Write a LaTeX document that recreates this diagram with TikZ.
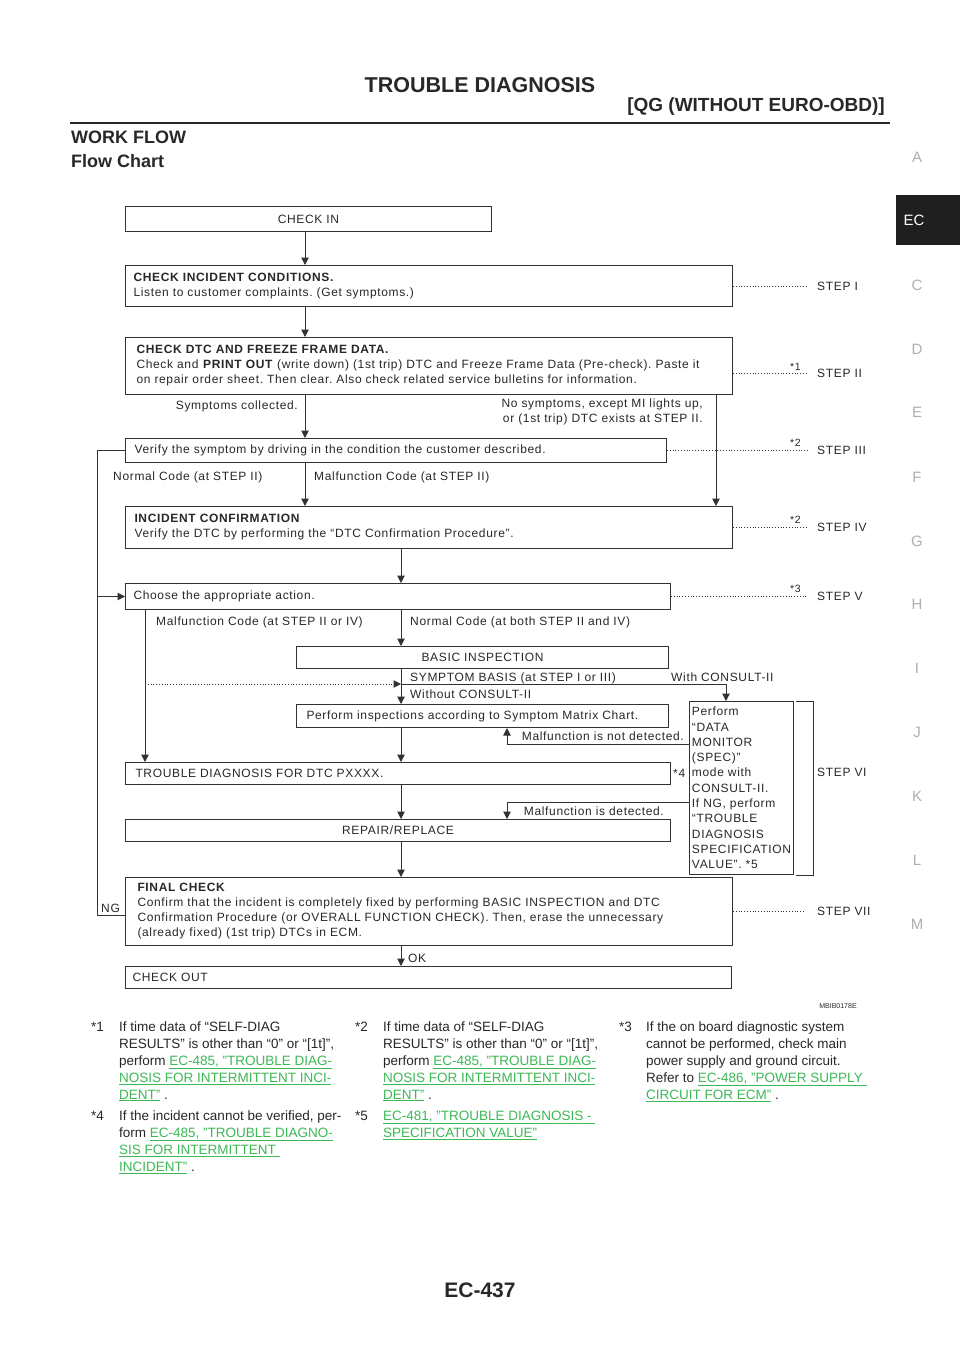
\documentclass[tikz,border=0pt]{standalone}
\usepackage{fontspec}
\setmainfont{Liberation Sans}
\newfontfamily\fcfont[LetterSpace=5.5]{Liberation Sans}
\usetikzlibrary{arrows.meta}
\definecolor{fcc}{RGB}{40,40,40}
\definecolor{lnc}{RGB}{50,50,50}
\definecolor{lk}{RGB}{60,185,85}
\definecolor{tabc}{RGB}{175,175,175}
\newcommand\fl[1]{\mbox{#1}}
\newcommand\lk[1]{\textcolor{lk}{\underline{#1}}}
\frenchspacing
\begin{document}
\begin{tikzpicture}[x=1pt,y=-1pt,
  fc/.style={font=\fcfont\fontsize{12}{15}\selectfont, text=fcc},
  box/.style={fc, draw=lnc, line width=1pt, rectangle, inner ysep=0pt, anchor=north west},
  lbl/.style={fc, inner sep=0pt, anchor=base west},
  star/.style={font=\fcfont\fontsize{10.5}{12}\selectfont, text=fcc, inner sep=0pt, anchor=base west},
  arr/.style={draw=lnc, line width=1pt, -{Triangle[width=7.5pt,length=7.5pt]}},
  ln/.style={draw=lnc, line width=1pt},
  dot/.style={draw=lnc, line width=1pt, dash pattern=on 1pt off 1.8pt},
  fn/.style={anchor=north west, inner sep=0pt, align=left, font=\fontsize{13.5}{17}\selectfont, text=fcc},
  tab/.style={font=\fontsize{15}{18}\selectfont, text=tabc, inner sep=0pt}
]
\useasboundingbox (0,0) rectangle (960,1358);
\fill[white] (0,0) rectangle (960,1358);

% header
\node[font=\bfseries\fontsize{21.5}{24}\selectfont, text=fcc, inner sep=0pt] (title) at (480,85) {TROUBLE DIAGNOSIS};
\node[font=\bfseries\fontsize{19}{22}\selectfont, text=fcc, inner sep=0pt, anchor=east] (subtitle) at (885,107) {[QG (WITHOUT EURO-OBD)]};
\draw[line width=2.7pt, fcc] (70,123) -- (890,123);
\node[font=\bfseries\fontsize{18}{20}\selectfont, text=fcc, inner sep=0pt, anchor=west] (wf) at (71,137) {WORK FLOW};
\node[font=\bfseries\fontsize{18}{20}\selectfont, text=fcc, inner sep=0pt, anchor=west] (fch) at (71,161) {Flow Chart};

% side tabs
\fill[black!88] (896,195) rectangle (960,245);
\node[font=\fontsize{15}{18}\selectfont, text=white, inner sep=0pt] (tabec) at (914,220) {EC};
\foreach \t/\yy [count=\i] in {A/157,C/285,D/349,E/412,F/477,G/541,H/604,I/668,J/732,K/796,L/860,M/924}
  \node[tab] (tab\i) at (917,\yy) {\t};

% x / y helper coordinates
\coordinate (X97) at (97,0);
\coordinate (X145) at (145,0);
\coordinate (X305) at (305,0);
\coordinate (X401) at (401,0);
\coordinate (X507) at (507,0);
\coordinate (X716) at (716,0);
\coordinate (X726) at (726,0);
\coordinate (X805) at (805,0);
\coordinate (X808) at (808,0);
\coordinate (Y373) at (0,373);
\coordinate (Y684) at (0,684);
\coordinate (Y744) at (0,744);
\coordinate (Y802) at (0,802);
\coordinate (Y915) at (0,915);

% boxes
\node[box, text width=366pt, inner xsep=0pt, align=center, minimum height=25pt] (checkin) at (125,206) {CHECK IN};
\node[box, text width=591pt, inner xsep=8pt, align=left, minimum height=41pt] (cic) at (125,265)
  {\fl{\bfseries CHECK INCIDENT CONDITIONS.}\\\fl{Listen to customer complaints. (Get symptoms.)}};
\node[box, text width=585pt, inner xsep=11pt, align=left, minimum height=57pt] (dtc) at (125,337)
  {\fl{\bfseries CHECK DTC AND FREEZE FRAME DATA.}\\\fl{Check and \textbf{PRINT OUT} (write down) (1st trip) DTC and Freeze Frame Data (Pre-check). Paste it}\\\fl{on repair order sheet. Then clear. Also check related service bulletins for information.}};
\node[box, text width=523pt, inner xsep=9pt, align=left, minimum height=24pt] (verify) at (125,438)
  {\fl{Verify the symptom by driving in the condition the customer described.}};
\node[box, text width=589pt, inner xsep=9pt, align=left, minimum height=42pt] (conf) at (125,506)
  {\fl{\bfseries INCIDENT CONFIRMATION}\\\fl{Verify the DTC by performing the “DTC Confirmation Procedure”.}};
\node[box, text width=529pt, inner xsep=8pt, align=left, minimum height=26pt] (choose) at (125,583)
  {\fl{Choose the appropriate action.}};
\node[box, text width=372pt, inner xsep=0pt, align=center, minimum height=22pt] (basic) at (296,646)
  {\fl{BASIC INSPECTION}};
\node[box, text width=352pt, inner xsep=10pt, align=left, minimum height=23pt] (perf) at (296,704)
  {\fl{Perform inspections according to Symptom Matrix Chart.}};
\node[box, font=\fcfont\fontsize{12}{15.3}\selectfont, minimum width=104pt, inner xsep=1pt, align=left, minimum height=173pt] (dm) at (689,701)
  {Perform\\“DATA\\MONITOR\\(SPEC)”\\mode with\\CONSULT-II.\\If NG, perform\\“TROUBLE\\DIAGNOSIS\\SPECIFICATION\\VALUE”. *5};
\node[box, text width=525pt, inner xsep=10pt, align=left, minimum height=22pt] (tdiag) at (125,762)
  {\fl{TROUBLE DIAGNOSIS FOR DTC PXXXX.}};
\node[box, text width=545pt, inner xsep=0pt, align=center, minimum height=22pt] (repair) at (125,819)
  {\fl{REPAIR/REPLACE}};
\node[box, text width=583pt, inner xsep=12pt, align=left, minimum height=68pt] (final) at (125,877)
  {\fl{\bfseries FINAL CHECK}\\\fl{Confirm that the incident is completely fixed by performing BASIC INSPECTION and DTC}\\\fl{Confirmation Procedure (or OVERALL FUNCTION CHECK). Then, erase the unnecessary}\\\fl{(already fixed) (1st trip) DTCs in ECM.}};
\node[box, text width=592pt, inner xsep=7pt, align=left, minimum height=22pt] (checkout) at (125,966)
  {\fl{CHECK OUT}};

% connectors
\draw[arr] (checkin.south -| X305) -- (cic.north -| X305);
\draw[arr] (cic.south -| X305) -- (dtc.north -| X305);
\draw[arr] (dtc.south -| X305) -- (verify.north -| X305);
\draw[arr] (dtc.south -| X716) -- (conf.north -| X716);
\draw[arr] (verify.south -| X305) -- (conf.north -| X305);
\draw[arr] (verify.west) -- (verify.west -| X97) -- (choose.west -| X97) -- (choose.west);
\draw[ln] (Y915 -| final.west) -- (Y915 -| X97) -- (choose.west -| X97);
\draw[arr] (conf.south -| X401) -- (choose.north -| X401);
\draw[arr] (choose.south -| X145) -- (tdiag.north -| X145);
\draw[arr] (choose.south -| X401) -- (basic.north -| X401);
\draw[arr] (basic.south -| X401) -- (perf.north -| X401);
\draw[arr] (Y684 -| X401) -- (Y684 -| X726) -- (dm.north -| X726);
\draw[dot, -{Triangle[width=7.5pt,length=7.5pt]}] (Y684 -| X145) -- (Y684 -| X401);
\draw[arr] (Y744 -| dm.west) -- (Y744 -| X507) -- (perf.south -| X507);
\draw[arr] (perf.south -| X401) -- (tdiag.north -| X401);
\draw[arr] (tdiag.south -| X401) -- (repair.north -| X401);
\draw[arr] (Y802 -| dm.west) -- (Y802 -| X507) -- (repair.north -| X507);
\draw[arr] (repair.south -| X401) -- (final.north -| X401);
\draw[arr] (final.south -| X401) -- (checkout.north -| X401);
\draw[ln] ([xshift=2pt]dm.north east) -- ([xshift=19pt]dm.north east) -- ([xshift=19pt]dm.south east) -- ([xshift=2pt]dm.south east);

% step dotted lines
\draw[dot] (cic.east) -- (cic.east -| X808);
\draw[dot] (Y373 -| dtc.east) -- (Y373 -| X808);
\draw[dot] (verify.east) -- (verify.east -| X808);
\draw[dot] (conf.east) -- (conf.east -| X808);
\draw[dot] (choose.east) -- (choose.east -| X808);
\draw[dot] (final.east) -- (final.east -| X805);

% step labels
\node[lbl] (s1) at (817,290) {STEP I};
\node[lbl] (s2) at (817,377) {STEP II};
\node[lbl] (s3) at (817,454) {STEP III};
\node[lbl] (s4) at (817,531) {STEP IV};
\node[lbl] (s5) at (817,600) {STEP V};
\node[lbl] (s6) at (817,776) {STEP VI};
\node[lbl] (s7) at (817,915) {STEP VII};
\node[star] (st1) at (790,370) {*1};
\node[star] (st2) at (790,446) {*2};
\node[star] (st3) at (790,523) {*2};
\node[star] (st4) at (790,592) {*3};

% connector labels
\node[lbl, anchor=base east] (l1) at (298,409) {Symptoms collected.};
\node[fc, inner sep=0pt, align=right, anchor=east] (l2) at (703,412) {No symptoms, except MI lights up,\\or (1st trip) DTC exists at STEP II.};
\node[lbl] (l3) at (113,480) {Normal Code (at STEP II)};
\node[lbl] (l4) at (314,480) {Malfunction Code (at STEP II)};
\node[lbl] (l5) at (156,625) {Malfunction Code (at STEP II or IV)};
\node[lbl] (l6) at (410,625) {Normal Code (at both STEP II and IV)};
\node[lbl] (l7) at (410,681) {SYMPTOM BASIS (at STEP I or III)};
\node[lbl] (l8) at (671,681) {With CONSULT-II};
\node[lbl] (l9) at (410,698) {Without CONSULT-II};
\node[lbl, anchor=base east] (l10) at (684,740) {Malfunction is not detected.};
\node[lbl] (l11) at (673,777) {*4};
\node[lbl, anchor=base east] (l12) at (664,815) {Malfunction is detected.};
\node[lbl] (l13) at (101,912) {NG};
\node[lbl] (l14) at (408,962) {OK};
\node[font=\fontsize{7}{8}\selectfont, text=fcc, inner sep=0pt] (code) at (838,1006) {MBIB0178E};

% footnotes
\node[fn] (n1m) at (91,1019.1) {\strut*1};
\node[fn] (n1) at (119,1019.1) {\strut If time data of “SELF-DIAG\\RESULTS” is other than “0” or “[1t]”,\\perform \lk{EC-485, "TROUBLE DIAG-}\\\lk{NOSIS FOR INTERMITTENT INCI-}\\\lk{DENT"} .};
\node[fn] (n2m) at (355,1019.1) {\strut*2};
\node[fn] (n2) at (383,1019.1) {\strut If time data of “SELF-DIAG\\RESULTS” is other than “0” or “[1t]”,\\perform \lk{EC-485, "TROUBLE DIAG-}\\\lk{NOSIS FOR INTERMITTENT INCI-}\\\lk{DENT"} .};
\node[fn] (n3m) at (619,1019.1) {\strut*3};
\node[fn] (n3) at (646,1019.1) {\strut If the on board diagnostic system\\cannot be performed, check main\\power supply and ground circuit.\\Refer to \lk{EC-486, "POWER SUPPLY }\\\lk{CIRCUIT FOR ECM"} .};
\node[fn] (n4m) at (91,1108.1) {\strut*4};
\node[fn] (n4) at (119,1108.1) {\strut If the incident cannot be verified, per-\\form \lk{EC-485, "TROUBLE DIAGNO-}\\\lk{SIS FOR INTERMITTENT }\\\lk{INCIDENT"} .};
\node[fn] (n5m) at (355,1108.1) {\strut*5};
\node[fn] (n5) at (383,1108.1) {\strut\lk{EC-481, "TROUBLE DIAGNOSIS - }\\\lk{SPECIFICATION VALUE"}};

% page number
\node[font=\bfseries\fontsize{21}{24}\selectfont, text=fcc, inner sep=0pt] (pg) at (480,1290) {EC-437};
\end{tikzpicture}
\end{document}
